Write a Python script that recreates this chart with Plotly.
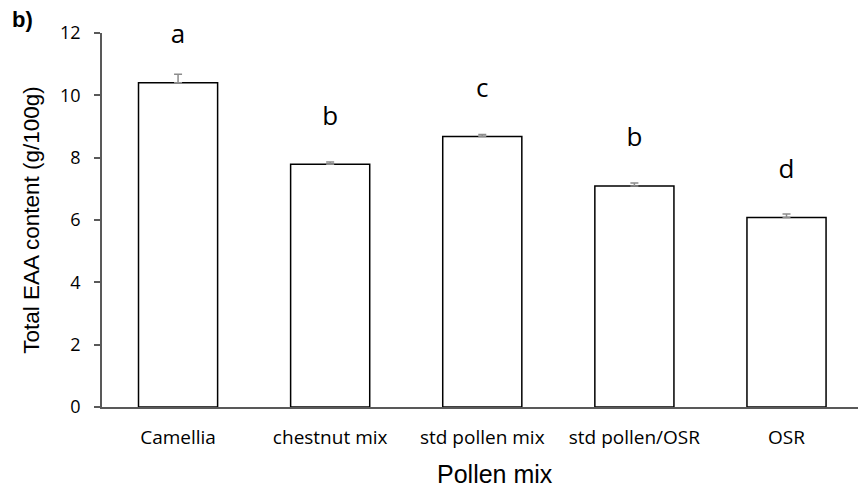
import plotly.graph_objects as go

categories = ["Camellia", "chestnut mix", "std pollen mix", "std pollen/OSR", "OSR"]
eaa_values = [10.4, 7.79, 8.68, 7.09, 6.08]
eaa_errors = [0.28, 0.07, 0.06, 0.10, 0.11]
group_letters = ["a", "b", "c", "b", "d"]
y_ticks = [0, 2, 4, 6, 8, 10, 12]

LETTER_OFFSET = 1.48

fig = go.Figure()
fig.add_trace(go.Bar(
    x=categories, y=eaa_values,
    marker=dict(color="white", line=dict(color="black", width=1.5)),
    error_y=dict(type="data", array=eaa_errors, symmetric=False, arrayminus=[0]*5,
                 color="#8c8c8c", thickness=1.5, width=4),
    width=0.52,
))
fig.add_trace(go.Scatter(
    x=categories, y=[v + LETTER_OFFSET for v in eaa_values],
    mode="text", text=group_letters, textposition="middle center",
    textfont=dict(family="Open Sans", size=26, color="black"),
    cliponaxis=False, hoverinfo="skip",
))

fig.add_annotation(x=-0.122, y=1.035, xref="paper", yref="paper", text="<b>b)</b>",
                   showarrow=False, xanchor="left", yanchor="middle",
                   font=dict(family="Liberation Sans", size=22, color="black"))
fig.add_annotation(x=0.52, y=-0.18, xref="paper", yref="paper", text="Pollen mix",
                   showarrow=False, xanchor="center", yanchor="middle",
                   font=dict(family="Liberation Sans", size=25, color="black"))

fig.update_layout(
    width=858, height=490,
    margin=dict(l=102, r=0, t=33, b=83),
    paper_bgcolor="white", plot_bgcolor="white",
    showlegend=False,
    xaxis=dict(range=[-0.5, 4.47], showline=True, linecolor="#595959", linewidth=1.5,
               ticks="", tickfont=dict(family="Open Sans", size=19, color="black"),
               ticklabelstandoff=12, showgrid=False),
    yaxis=dict(range=[0, 12], tickvals=y_ticks, showline=True, linecolor="#595959",
               linewidth=1.5, ticks="outside", ticklen=6, tickcolor="#595959", tickwidth=1.5,
               tickfont=dict(family="Open Sans", size=18, color="black"),
               ticklabelstandoff=10, showgrid=False, zeroline=False,
               title=dict(text="Total EAA content (g/100g)", standoff=14,
                          font=dict(family="Liberation Sans", size=22.5, color="black"))),
)

fig.write_html("out.html")
